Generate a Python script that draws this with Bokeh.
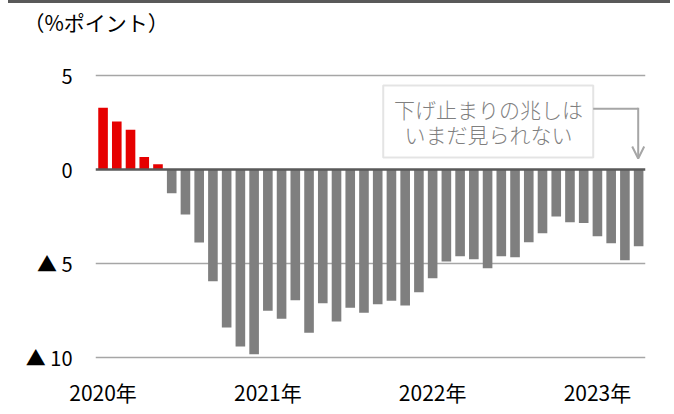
from bokeh.plotting import figure
from bokeh.models import (FixedTicker, Span, Label, BoxAnnotation, ColumnDataSource,
                          Range1d, Arrow, OpenHead, Title, InlineStyleSheet)
from bokeh.embed import file_html
from bokeh.resources import INLINE

# ---- data (monthly, Jan 2020 - Apr 2023) ----
months = [f"{y}-{m:02d}" for y in (2020, 2021, 2022, 2023) for m in range(1, 13)][:40]
values = [3.28, 2.55, 2.11, 0.66, 0.27,
          -1.26, -2.39, -3.88, -5.94, -8.39, -9.41, -9.82,
          -7.50, -7.93, -6.95, -8.67, -7.11, -8.07, -7.34, -7.61,
          -7.16, -6.97, -7.23, -6.52, -5.78, -4.89, -4.61, -4.77,
          -5.25, -4.61, -4.66, -3.87, -3.39, -2.50, -2.80, -2.85,
          -3.55, -3.92, -4.82, -4.08]
year_ticks = [0, 12, 24, 36]
year_labels = ["2020年", "2021年", "2022年", "2023年"]
y_ticks = [-10, -5, 0, 5]
y_labels = ["▲ 10", "▲ 5", "0", "5"]
unit_label = "（%ポイント）"
note_lines = ["下げ止まりの兆しは", "いまだ見られない"]

RED = "#E60000"
GRAY = "#7F7F7F"
FONT = "Noto Sans CJK JP"

xs = list(range(len(values)))
colors = [RED if v > 0 else GRAY for v in values]
src = ColumnDataSource(dict(x=xs, v=values, color=colors, month=months))

p = figure(frame_width=550, frame_height=321, output_backend="svg", toolbar_location=None,
           x_range=Range1d(-0.55, 39.5), y_range=Range1d(-10.2, 6.846),
           min_border_left=95, min_border_right=29, min_border_top=40, min_border_bottom=53,
           title=None)
p.outline_line_color = None
p.background_fill_color = "white"
p.border_fill_color = "white"

# thin dark band along the top of the page
p.stylesheets = [InlineStyleSheet(css=(
    ":host::before { content: ''; position: absolute; left: 8px; width: 662px; top: 0px;"
    " height: 3px; background: #595959; z-index: 100; }"))]

p.vbar(x="x", top="v", bottom=0, width=0.7, fill_color="color", line_color=None, source=src)

p.add_layout(Span(location=0, dimension="width", line_color="#595959", line_width=2.5))

# axes
p.xaxis.ticker = FixedTicker(ticks=year_ticks)
p.xaxis.major_label_overrides = dict(zip(year_ticks, year_labels))
p.yaxis.ticker = FixedTicker(ticks=y_ticks)
p.yaxis.major_label_overrides = dict(zip(y_ticks, y_labels))
for ax in (p.xaxis[0], p.yaxis[0]):
    ax.axis_line_color = None
    ax.major_tick_line_color = None
    ax.minor_tick_line_color = None
    ax.major_label_text_color = "black"
    ax.major_label_text_font = FONT
p.xaxis.major_label_text_font_size = "21px"
p.yaxis.major_label_text_font_size = "20px"
p.xaxis.major_label_standoff = 9
p.yaxis.major_label_standoff = 17

p.xgrid.grid_line_color = None
p.ygrid.ticker = FixedTicker(ticks=[-10, -5, 5])
p.ygrid.grid_line_color = "#A6A6A6"
p.ygrid.grid_line_width = 1.3

# unit label
p.add_layout(Title(text=unit_label, align="left", offset=-72, standoff=8,
                   text_font=FONT, text_font_size="21px", text_font_style="normal",
                   text_color="black"), "above")

# annotation box (screen units: relative to frame bottom-left, y up)
p.add_layout(BoxAnnotation(left=287.7, right=497.7, top=276, bottom=204,
                           left_units="screen", right_units="screen",
                           top_units="screen", bottom_units="screen",
                           fill_color="white", fill_alpha=1,
                           line_color="#A6A6A6", line_width=2))
for i, line in enumerate(note_lines):
    p.add_layout(Label(x=393, y=253 - 25 * i, x_units="screen", y_units="screen", text=line,
                       text_font="Noto Sans CJK JP Light", text_font_size="21px",
                       text_color=GRAY, text_align="center", text_baseline="middle"))
p.add_layout(Arrow(x_start=497.7, y_start=252.7, x_end=542.7, y_end=252.7,
                   start_units="screen", end_units="screen", end=None,
                   line_color="#A6A6A6", line_width=2))
p.add_layout(Arrow(x_start=542.7, y_start=253.7, x_end=542.7, y_end=203,
                   start_units="screen", end_units="screen",
                   end=OpenHead(size=12, line_color="#A6A6A6", line_width=2),
                   line_color="#A6A6A6", line_width=2))

open("out.html", "w").write(file_html(p, INLINE))
